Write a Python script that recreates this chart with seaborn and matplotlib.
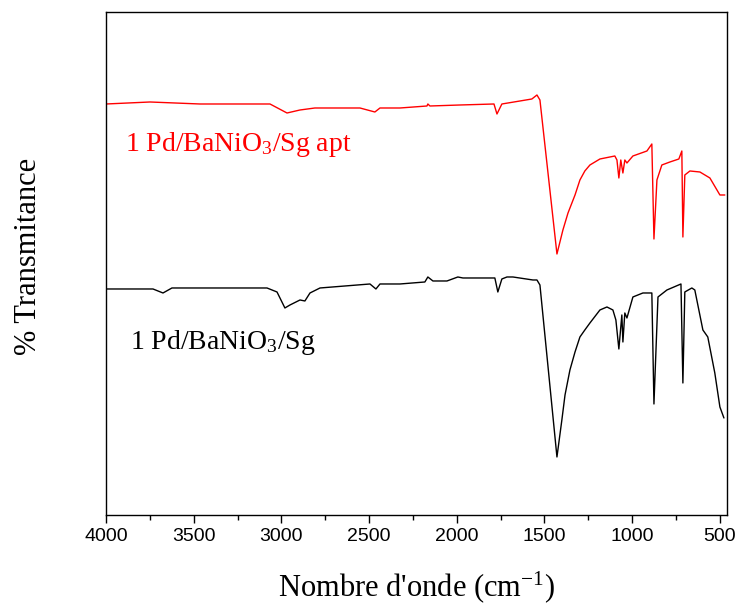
import matplotlib
matplotlib.use("Agg")
import matplotlib.pyplot as plt
import seaborn as sns
import pandas as pd
from matplotlib.ticker import MultipleLocator

# Data (transmittance in arbitrary units)
wn_apt = [4000, 3749, 3464, 3065, 2968, 2894, 2809, 2552, 2467, 2438, 2324, 2170, 2165, 2153,
          1982, 1788, 1771, 1743, 1640, 1572, 1543, 1526, 1429, 1395, 1366, 1326, 1298, 1270,
          1241, 1184, 1099, 1087, 1076, 1065, 1053, 1042, 1030, 996, 916, 888, 876, 859, 831,
          785, 734, 717, 711, 700, 671, 614, 557, 500, 472]
t_apt = [411, 413, 411, 411, 402, 405, 407, 407, 403, 407, 407, 409, 411, 409,
         410, 411, 401, 411, 414, 416, 420, 415, 261, 285, 302, 320, 335, 344,
         350, 356, 359, 355, 337, 355, 342, 355, 352, 359, 364, 371, 276, 335, 350,
         353, 356, 364, 278, 340, 344, 343, 337, 320, 320]

wn_sg = [4000, 3732, 3675, 3624, 3082, 3025, 2980, 2951, 2894, 2866, 2837, 2780, 2495, 2461,
         2438, 2324, 2182, 2165, 2136, 2056, 1994, 1965, 1783, 1766, 1743, 1714, 1680, 1566,
         1543, 1526, 1429, 1401, 1383, 1355, 1326, 1298, 1270, 1241, 1184, 1144, 1110, 1093,
         1076, 1059, 1053, 1042, 1030, 996, 939, 888, 876, 853, 802, 722, 711, 700, 660, 643,
         597, 569, 529, 500, 477]
t_sg = [226, 226, 222, 227, 227, 223, 207, 210, 215, 214, 222, 227, 231, 226,
        231, 231, 233, 238, 234, 234, 238, 237, 237, 223, 236, 238, 238, 235,
        235, 230, 58, 95, 120, 145, 163, 178, 185, 192, 205, 208, 205, 195,
        166, 200, 173, 202, 197, 218, 222, 222, 111, 218, 225, 231, 132, 223, 227, 225,
        185, 178, 142, 108, 97]

labels = ["1 Pd/BaNiO$_3$/Sg apt", "1 Pd/BaNiO$_3$/Sg"]
x_ticks = [4000, 3500, 3000, 2500, 2000, 1500, 1000, 500]

sns.set_style("ticks")
plt.rcParams["mathtext.fontset"] = "custom"
plt.rcParams["mathtext.rm"] = "Liberation Serif"
plt.rcParams["mathtext.it"] = "Liberation Serif"

df_apt = pd.DataFrame({"wn": wn_apt, "t": t_apt})
df_sg = pd.DataFrame({"wn": wn_sg, "t": t_sg})

fig = plt.figure(figsize=(7.35, 6.09), dpi=100)
ax = fig.add_axes([0.1442, 0.1544, 0.989 - 0.1442, 0.9803 - 0.1544])

sns.lineplot(data=df_apt, x="wn", y="t", color="red", linewidth=1.0, estimator=None, ax=ax)
sns.lineplot(data=df_sg, x="wn", y="t", color="black", linewidth=1.0, estimator=None, ax=ax)

ax.set_xlim(4000, 460)
ax.set_ylim(0, 503)
ax.set_xticks(x_ticks)
ax.xaxis.set_minor_locator(MultipleLocator(250))
ax.set_yticks([])
ax.tick_params(axis="x", which="major", direction="out", length=6, width=1, labelsize=14,
               color="black", labelcolor="black")
ax.tick_params(axis="x", which="minor", direction="out", length=3.5, width=1, color="black")
for lab in ax.get_xticklabels():
    lab.set_family("Liberation Sans")
for s in ax.spines.values():
    s.set_color("black")
    s.set_linewidth(1.0)

ax.set_xlabel("Nombre d'onde (cm$^{-1}$)", family="Liberation Serif", fontsize=22, color="black")
ax.xaxis.set_label_coords(0.5, -0.108)
ax.set_ylabel("% Transmitance", family="Liberation Serif", fontsize=22, color="black")
ax.yaxis.set_label_coords(-0.101, 0.515)

ax.text(3892, 370, labels[0], color="red", family="Liberation Serif", fontsize=20, va="center", ha="left")
ax.text(3863, 172, labels[1], color="black", family="Liberation Serif", fontsize=20, va="center", ha="left")

fig.savefig("out.png", dpi=100)
